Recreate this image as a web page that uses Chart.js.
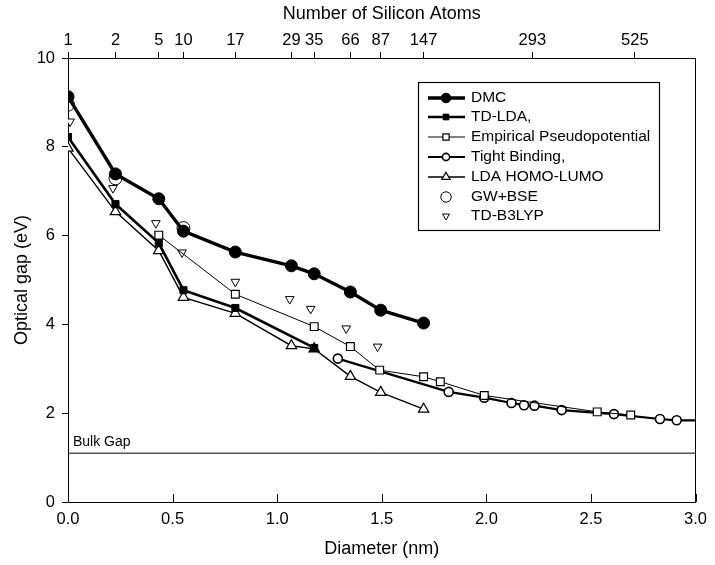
<!DOCTYPE html>
<html>
<head>
<meta charset="utf-8">
<script src="https://cdn.jsdelivr.net/npm/chart.js@4.4.0/dist/chart.umd.min.js"></script>
<style>
  html, body { margin: 0; padding: 0; background: #fff; }
</style>
</head>
<body>
<canvas id="chart" width="715" height="565"></canvas>
<script>
// top axis: diameter of each cluster and its number of Si atoms
const atomDiam   = [0, 0.227, 0.434, 0.552, 0.80, 1.068, 1.177, 1.35, 1.495, 1.70, 2.22, 2.71];
const atomLabels = ['1', '2', '5', '10', '17', '29', '35', '66', '87', '147', '293', '525'];

// DMC
const dmcX = [0, 0.227, 0.434, 0.552, 0.80, 1.068, 1.177, 1.35, 1.495, 1.70];
const dmcY = [9.13, 7.39, 6.83, 6.10, 5.63, 5.32, 5.14, 4.73, 4.32, 4.03];

// TD-LDA
const tdldaX = [0, 0.227, 0.434, 0.552, 0.80, 1.177];
const tdldaY = [8.22, 6.71, 5.83, 4.77, 4.37, 3.47];

// Empirical Pseudopotential
const empX = [0.434, 0.80, 1.177, 1.35, 1.49, 1.70, 1.78, 1.99, 2.53, 2.69];
const empY = [6.01, 4.68, 3.95, 3.50, 2.97, 2.82, 2.71, 2.40, 2.03, 1.96];

// Tight Binding
const tbX = [1.29, 1.82, 1.99, 2.12, 2.18, 2.23, 2.36, 2.61, 2.83, 2.91, 3.0];
const tbY = [3.23, 2.48, 2.35, 2.23, 2.18, 2.17, 2.07, 1.98, 1.87, 1.84, 1.84];

// LDA HOMO-LUMO
const ldaX = [0, 0.227, 0.434, 0.552, 0.80, 1.068, 1.177, 1.35, 1.495, 1.70];
const ldaY = [7.97, 6.54, 5.66, 4.61, 4.25, 3.52, 3.45, 2.83, 2.47, 2.09];

// GW+BSE
const gwX = [0, 0.227, 0.552];
const gwY = [8.95, 7.29, 6.17];

// TD-B3LYP
const b3X = [0.01, 0.215, 0.42, 0.545, 0.80, 1.06, 1.16, 1.33, 1.48];
const b3Y = [8.57, 7.07, 6.28, 5.62, 4.96, 4.57, 4.35, 3.91, 3.50];

const bulkGap = 1.1;

const pts = (xs, ys) => xs.map((x, i) => ({ x: x, y: ys[i] }));

const FONT = 'Liberation Sans, Arial, Helvetica, sans-serif';

const datasets = [
  { label: 'DMC', data: pts(dmcX, dmcY), borderColor: '#000', borderWidth: 3.4,
    pointStyle: 'circle', pointRadius: 6, pointBackgroundColor: '#000', pointBorderWidth: 1 },
  { label: 'TD-LDA,', data: pts(tdldaX, tdldaY), borderColor: '#000', borderWidth: 2.6,
    pointStyle: 'rect', pointRadius: 5, pointBackgroundColor: '#000', pointBorderWidth: 1 },
  { label: 'Empirical Pseudopotential', data: pts(empX, empY), borderColor: '#000', borderWidth: 1,
    pointStyle: 'rect', pointRadius: 5.5, pointBackgroundColor: '#fff', pointBorderWidth: 1.2 },
  { label: 'Tight Binding,', data: pts(tbX, tbY), borderColor: '#000', borderWidth: 2.2,
    pointStyle: 'circle', pointRadius: tbX.map((x, i) => i === tbX.length - 1 ? 0 : 4.5),
    pointBackgroundColor: '#fff', pointBorderWidth: 1.6 },
  { label: 'LDA HOMO-LUMO', data: pts(ldaX, ldaY), borderColor: '#000', borderWidth: 1.4,
    pointStyle: 'triangle', pointRadius: 6, pointBackgroundColor: '#fff', pointBorderWidth: 1.2 },
  { label: 'GW+BSE', data: pts(gwX, gwY), showLine: false, borderColor: '#000',
    pointStyle: 'circle', pointRadius: 6.5, pointBackgroundColor: 'rgba(255,255,255,0)', pointBorderWidth: 1 },
  { label: 'TD-B3LYP', data: pts(b3X, b3Y), showLine: false, borderColor: '#000',
    pointStyle: 'triangle', pointRotation: 180, pointRadius: 5, pointBackgroundColor: '#fff', pointBorderWidth: 1 },
  { label: 'Bulk Gap', data: [{ x: 0, y: bulkGap }, { x: 3, y: bulkGap }], borderColor: '#000',
    borderWidth: 1, pointRadius: 0 }
];
datasets.forEach(d => { d.pointBorderColor = '#000'; d.fill = false; d.tension = 0; });

// legend drawn inside the plot, plus inward ticks and the bulk gap label
const extras = {
  id: 'extras',
  afterDraw(chart) {
    const ctx = chart.ctx;
    const xs = chart.scales.x, ys = chart.scales.y;

    // bottom ticks point inward
    ctx.save();
    ctx.strokeStyle = '#000';
    ctx.lineWidth = 1;
    xs.ticks.forEach(t => {
      const px = Math.round(xs.getPixelForValue(t.value)) + 0.5;
      ctx.beginPath();
      ctx.moveTo(px, xs.top);
      ctx.lineTo(px, xs.top - 8);
      ctx.stroke();
    });

    // bulk gap label
    ctx.fillStyle = '#000';
    ctx.font = '14px ' + FONT;
    ctx.textBaseline = 'bottom';
    ctx.fillText('Bulk Gap', xs.getPixelForValue(0) + 5, ys.getPixelForValue(bulkGap) - 4);

    // legend box
    const bx = 418, by = 82, bw = 241, bh = 148;
    ctx.fillStyle = '#fff';
    ctx.fillRect(bx, by, bw, bh);
    ctx.strokeStyle = '#000';
    ctx.lineWidth = 1.2;
    ctx.strokeRect(bx + 0.5, by + 0.5, bw, bh);

    const rowY = [98, 117, 137, 157, 177, 197, 216];
    ctx.font = '15.5px ' + FONT;
    ctx.textBaseline = 'middle';
    for (let i = 0; i < 7; i++) {
      const ds = datasets[i];
      const y = rowY[i];
      ctx.strokeStyle = '#000';
      if (ds.showLine !== false) {
        ctx.lineWidth = ds.borderWidth;
        ctx.beginPath();
        ctx.moveTo(428, y);
        ctx.lineTo(465, y);
        ctx.stroke();
      }
      const r = Array.isArray(ds.pointRadius) ? ds.pointRadius[0] : ds.pointRadius;
      ctx.fillStyle = ds.pointBackgroundColor;
      ctx.lineWidth = ds.pointBorderWidth;
      Chart.helpers.drawPoint(ctx, {
        pointStyle: ds.pointStyle, rotation: ds.pointRotation || 0,
        radius: r * 0.8, borderWidth: ds.pointBorderWidth
      }, 446, y);
      ctx.fillStyle = '#000';
      ctx.fillText(ds.label, 471, y);
    }
    ctx.restore();
  }
};

const tickFont = { family: FONT, size: 16.5 };
const titleFont = { family: FONT, size: 18 };

new Chart(document.getElementById('chart'), {
  type: 'line',
  data: { datasets },
  options: {
    responsive: false,
    animation: false,
    parsing: false,
    layout: { padding: 0 },
    plugins: { legend: { display: false }, tooltip: { enabled: false }, title: { display: false } },
    scales: {
      x: {
        type: 'linear', position: 'bottom', min: 0, max: 3,
        ticks: { stepSize: 0.5, callback: v => v.toFixed(1), color: '#000', font: tickFont, padding: 8, maxRotation: 0 },
        grid: { drawOnChartArea: false, drawTicks: false },
        border: { color: '#000', width: 1 },
        title: { display: true, text: 'Diameter (nm)', color: '#000', font: titleFont, padding: { top: 0, bottom: 5 } },
        afterFit: s => { s.height = 63; }
      },
      x2: {
        type: 'linear', position: 'top', min: 0, max: 3,
        afterBuildTicks: s => { s.ticks = atomDiam.map(v => ({ value: v })); },
        ticks: { autoSkip: false, maxRotation: 0, callback: (v, i) => atomLabels[i], color: '#000', font: tickFont, padding: 2 },
        grid: { drawOnChartArea: false, tickLength: 6, color: '#000' },
        border: { color: '#000', width: 1 },
        title: { display: true, text: 'Number of Silicon Atoms', color: '#000', font: titleFont, padding: { top: 3, bottom: 0 } },
        afterFit: s => { s.height = 58; }
      },
      y: {
        type: 'linear', position: 'left', min: 0, max: 10,
        ticks: { stepSize: 2, color: '#000', font: tickFont, padding: 7 },
        grid: { drawOnChartArea: false, tickLength: 6, color: '#000' },
        border: { color: '#000', width: 1 },
        title: { display: true, text: 'Optical gap (eV)', color: '#000', font: titleFont, padding: { top: 11, bottom: 0 } },
        afterFit: s => { s.width = 68; }
      },
      y2: {
        type: 'linear', position: 'right', min: 0, max: 10,
        ticks: { display: false },
        grid: { display: false },
        border: { display: true, color: '#000', width: 1 },
        afterFit: s => { s.width = 13; }
      }
    }
  },
  plugins: [extras]
});
</script>
</body>
</html>
